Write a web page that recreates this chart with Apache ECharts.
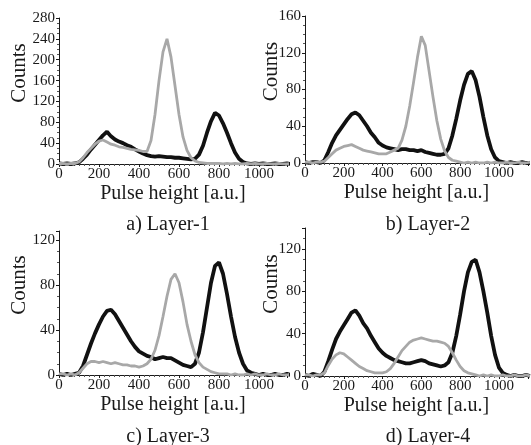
<!DOCTYPE html>
<html>
<head>
<meta charset="utf-8">
<script src="https://cdn.jsdelivr.net/npm/echarts@6/dist/echarts.min.js"></script>
<style>
  html, body { margin: 0; padding: 0; background: #fff; }
  #chart { width: 531px; height: 445px; }
</style>
</head>
<body>
<div id="chart"></div>
<script>
// Pulse-height bins [a.u.]
const pulseHeight = [0, 20, 40, 60, 80, 100, 120, 140, 160, 180, 200, 220, 240, 260, 280, 300, 320, 340, 360, 380,
  400, 420, 440, 460, 480, 500, 520, 540, 560, 580, 600, 620, 640, 660, 680, 700, 720, 740, 760, 780,
  800, 820, 840, 860, 880, 900, 920, 940, 960, 980, 1000, 1020, 1040, 1060, 1080, 1100, 1120, 1140, 1160];

// Layer-1 spectra
const layer1Dark = [1, 0, 1, 0, 1, 3, 10, 18, 28, 37, 46, 55, 62, 53, 47, 43, 40, 36, 33, 28,
  24, 20, 17, 15, 14, 15, 14, 13, 13, 12, 12, 11, 10, 9, 10, 18, 35, 60, 82, 98,
  93, 78, 60, 40, 22, 10, 4, 1, 0, 1, 0, 1, 0, 0, 1, 0, 0, 1, 0];
const layer1Light = [1, 1, 0, 1, 1, 4, 12, 22, 30, 38, 44, 46, 42, 38, 36, 33, 32, 30, 28, 27,
  26, 24, 24, 45, 95, 160, 215, 240, 205, 150, 95, 52, 26, 12, 6, 3, 2, 1, 1, 1,
  1, 0, 1, 0, 1, 0, 0, 1, 0, 1, 0, 0, 1, 0, 0, 1, 0, 0, 1];

// Layer-2 spectra
const layer2Dark = [1, 0, 1, 1, 0, 3, 12, 22, 30, 36, 42, 48, 53, 55, 52, 46, 40, 33, 28, 22,
  19, 17, 16, 15, 14, 15, 15, 14, 14, 13, 14, 12, 11, 10, 9, 9, 10, 16, 30, 48,
  68, 85, 97, 100, 90, 72, 50, 30, 15, 6, 2, 1, 0, 1, 0, 0, 1, 0, 0];
const layer2Light = [1, 1, 0, 1, 1, 2, 6, 10, 14, 16, 18, 19, 20, 18, 16, 14, 13, 12, 11, 10,
  10, 10, 12, 14, 16, 25, 40, 62, 88, 115, 138, 128, 100, 72, 46, 26, 13, 6, 3, 2,
  1, 0, 1, 0, 1, 0, 0, 1, 0, 1, 0, 0, 1, 0, 0, 1, 0, 0, 1];

// Layer-3 spectra
const layer3Dark = [1, 0, 1, 0, 1, 2, 8, 18, 28, 37, 45, 52, 57, 58, 54, 48, 42, 36, 30, 25,
  21, 19, 17, 16, 14, 15, 16, 15, 15, 13, 11, 9, 8, 7, 10, 20, 38, 60, 82, 97,
  100, 90, 72, 52, 34, 20, 10, 4, 2, 1, 0, 1, 0, 0, 1, 0, 0, 1, 0];
const layer3Light = [1, 1, 0, 1, 0, 2, 6, 10, 12, 12, 11, 12, 11, 10, 11, 10, 9, 9, 8, 8,
  7, 8, 10, 14, 22, 35, 52, 70, 85, 90, 82, 65, 45, 30, 18, 11, 7, 5, 3, 2,
  1, 1, 1, 0, 1, 0, 0, 1, 0, 1, 0, 0, 1, 0, 0, 1, 0, 0, 1];

// Layer-4 spectra
const layer4Dark = [1, 0, 2, 1, 0, 4, 14, 25, 35, 42, 48, 54, 60, 62, 57, 50, 45, 38, 32, 26,
  22, 19, 17, 15, 14, 13, 12, 12, 13, 14, 15, 14, 12, 11, 10, 9, 10, 13, 22, 38,
  58, 80, 98, 108, 110, 98, 80, 60, 38, 20, 8, 3, 1, 0, 1, 0, 0, 1, 0];
const layer4Light = [1, 1, 0, 1, 1, 3, 10, 16, 20, 22, 21, 18, 15, 12, 9, 7, 5, 4, 3, 3,
  3, 4, 7, 12, 18, 24, 28, 32, 34, 35, 36, 35, 34, 33, 33, 32, 31, 28, 22, 15,
  9, 5, 3, 2, 1, 0, 1, 0, 1, 0, 0, 1, 0, 0, 1, 0, 0, 1, 0];

// Axis tick labels
const xTicks = [0, 200, 400, 600, 800, 1000];
const yTicksA = [0, 40, 80, 120, 160, 200, 240, 280];
const yTicksB = [0, 40, 80, 120, 160];
const yTicksC = [0, 40, 80, 120];
const yTicksD = [0, 40, 80, 120];

const captions = ['a) Layer-1', 'b) Layer-2', 'c) Layer-3', 'd) Layer-4'];

const FONT = 'Liberation Serif';
const INK = '#1a1a1a';

const panels = [
  { grid: { left: 59, top: 18, width: 228, height: 146 }, xMax: 1140, yMax: 280, yTicks: yTicksA,
    dark: layer1Dark, light: layer1Light, cap: [163, 210], nameGapY: 29 },
  { grid: { left: 305, top: 16, width: 226, height: 147 }, xMax: 1150, yMax: 160, yTicks: yTicksB,
    dark: layer2Dark, light: layer2Light, cap: [423, 210], nameGapY: 23 },
  { grid: { left: 59, top: 231, width: 228, height: 144 }, xMax: 1140, yMax: 128, yTicks: yTicksC,
    dark: layer3Dark, light: layer3Light, cap: [163, 422], nameGapY: 29 },
  { grid: { left: 305, top: 228, width: 226, height: 148 }, xMax: 1150, yMax: 140, yTicks: yTicksD,
    dark: layer4Dark, light: layer4Light, cap: [423, 422], nameGapY: 23 }
];

function pairs(values) {
  return pulseHeight.map((x, i) => [x, values[i]]);
}

const grids = [], xAxes = [], yAxes = [], series = [], titles = [];

panels.forEach((p, k) => {
  grids.push(Object.assign({ containLabel: false }, p.grid));
  xAxes.push({
    gridIndex: k, type: 'value', min: 0, max: p.xMax, interval: 200,
    name: 'Pulse height [a.u.]', nameLocation: 'middle', nameGap: 20,
    nameTextStyle: { fontFamily: FONT, fontSize: 20, color: INK },
    axisLine: { onZero: false, lineStyle: { color: INK, width: 1 } },
    axisTick: { show: true, length: 3, lineStyle: { color: INK } },
    minorTick: { show: true, splitNumber: 8, length: 2, lineStyle: { color: '#555' } },
    splitLine: { show: false },
    axisLabel: {
      fontFamily: FONT, fontSize: 15, color: INK, margin: 3,
      formatter: v => (xTicks.indexOf(v) >= 0 ? String(v) : '')
    }
  });
  yAxes.push({
    gridIndex: k, type: 'value', min: 0, max: p.yMax, interval: 40,
    name: 'Counts', nameLocation: 'middle', nameGap: p.nameGapY, nameRotate: 90,
    nameMoveOverlap: false,
    nameTextStyle: { fontFamily: FONT, fontSize: 21, color: INK, padding: [0, 0, 0, 36] },
    axisLine: { lineStyle: { color: INK, width: 1 } },
    axisTick: { show: true, length: 3, lineStyle: { color: INK } },
    minorTick: { show: true, splitNumber: 4, length: 2, lineStyle: { color: '#555' } },
    splitLine: { show: false },
    axisLabel: {
      fontFamily: FONT, fontSize: 15, color: INK, margin: 4,
      formatter: v => (p.yTicks.indexOf(v) >= 0 ? String(v) : '')
    }
  });
  series.push({
    type: 'line', xAxisIndex: k, yAxisIndex: k, data: pairs(p.dark),
    showSymbol: false, symbol: 'none', animation: false,
    lineStyle: { color: '#111', width: 3.8 }
  });
  series.push({
    type: 'line', xAxisIndex: k, yAxisIndex: k, data: pairs(p.light),
    showSymbol: false, symbol: 'none', animation: false,
    lineStyle: { color: '#a8a8a8', width: 2.8 }
  });
  titles.push({
    text: captions[k], left: p.cap[0], top: p.cap[1], textAlign: 'center',
    textStyle: { fontFamily: FONT, fontSize: 20, fontWeight: 'normal', color: INK }
  });
});

const chart = echarts.init(document.getElementById('chart'), null, { renderer: 'canvas' });
chart.setOption({
  backgroundColor: '#ffffff',
  animation: false,
  title: titles,
  grid: grids,
  xAxis: xAxes,
  yAxis: yAxes,
  series: series
});
</script>
</body>
</html>
